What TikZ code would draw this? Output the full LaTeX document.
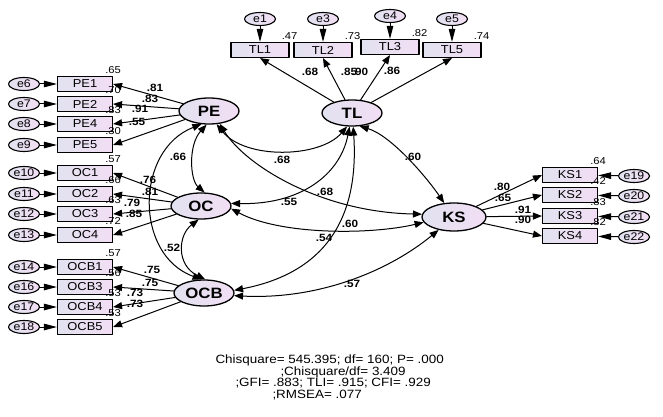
\documentclass[tikz,border=0pt]{standalone}
\usepackage{fontspec}
\setmainfont{Liberation Sans}[FakeStretch=1.12]
\usetikzlibrary{arrows.meta,shapes.geometric}
\definecolor{lvL}{RGB}{226,226,240}
\definecolor{lvR}{RGB}{242,222,244}
\tikzset{
	latent/.style={ellipse,draw,line width=1.3pt,left color=lvL,right color=lvR,minimum width=60,minimum height=26,inner sep=0pt,font=\fontsize{15}{15}\selectfont\bfseries},
	ind/.style={rectangle,draw,line width=1.1pt,left color=lvL,right color=lvR,minimum width=55,minimum height=15,inner sep=0pt,font=\fontsize{11.5}{11.5}\selectfont},
	err/.style={ellipse,draw,line width=1.1pt,left color=lvL,right color=lvR,minimum width=31,minimum height=13,inner sep=0pt,font=\fontsize{11}{11}\selectfont},
	errarr/.style={-{Triangle[length=13pt,width=6.5pt]}},
	ld/.style={font=\fontsize{10.5}{10.5}\selectfont\bfseries,inner sep=0.5pt},
	rsq/.style={font=\fontsize{10}{10}\selectfont,inner sep=0.5pt,above=1.5pt},
	stat/.style={font=\fontsize{12}{12}\selectfont,inner sep=0pt,anchor=base west}
}
\begin{document}
\begin{tikzpicture}[x=1pt,y=-1pt,>={Triangle[length=9pt,width=7pt]},line join=round,line cap=round,line width=1pt]
	\fill[white] (0,0) rectangle (663,417);
	\useasboundingbox (0,0) rectangle (663,417);
	\node[latent] (PE) at (209,111) {PE};
	\node[latent] (TL) at (352,113) {TL};
	\node[latent] (OC) at (201,206) {OC};
	\node[latent] (OCB) at (204,293) {OCB};
	\node[latent,minimum width=64,minimum height=28] (KS) at (454,217) {KS};
	\foreach \nm/\er/\yy/\rs/\lv in {PE1/e6/84/.65/PE, PE2/e7/104/.70/PE, PE4/e8/124/.83/PE, PE5/e9/145/.30/PE, OC1/e10/173/.57/OC, OC2/e11/194/.66/OC, OC3/e12/214/.63/OC, OC4/e13/235/.72/OC, OCB1/e14/267/.57/OCB, OCB3/e16/287/.56/OCB, OCB4/e17/307/.53/OCB, OCB5/e18/327/.53/OCB}{
		\node[ind] (\nm) at (85,\yy) {\nm};
		\node[err] (\er) at (24,\yy) {\er};
		\draw[errarr] (\er) -- (\nm);
		\draw[->] (\lv) -- (\nm.east);
		\node[rsq] at (\nm.north east) {\rs};
	}
	\foreach \nm/\er/\xx/\yy/\rs in {TL1/e1/260/50/.47, TL2/e3/323/50/.73, TL3/e4/390/47/.82, TL5/e5/452/50/.74}{
		\node[ind,minimum width=58] (\nm) at (\xx,\yy) {\nm};
		\node[err] (\er) at (\xx,\yy-31) {\er};
		\draw[errarr] (\er) -- (\nm);
		\draw[->] (TL) -- (\nm.south);
		\node[rsq] at (\nm.north east) {\rs};
	}
	\foreach \nm/\er/\yy/\rs in {KS1/e19/175/.64, KS2/e20/195/.42, KS3/e21/216/.83, KS4/e22/236/.82}{
		\node[ind] (\nm) at (570,\yy) {\nm};
		\node[err] (\er) at (634,\yy+1) {\er};
		\draw[errarr] (\er) -- (\nm);
		\draw[->] (KS) -- (\nm.west);
		\node[rsq] at (\nm.north east) {\rs};
	}
	\draw[<->] (PE.260) .. controls (188,145) and (190,180) .. (OC.75);
	\draw[<->] (PE.240) .. controls (135,150) and (134,255) .. (OCB.100);
	\draw[<->] (OC.260) .. controls (178,235) and (176,265) .. (OCB.85);
	\draw[<->] (PE.300) .. controls (245,160) and (320,158) .. (TL.250);
	\draw[<->] (PE.310) .. controls (245,165) and (320,212) .. (KS.175);
	\draw[<->] (TL.260) .. controls (340,175) and (300,205) .. (OC.5);
	\draw[<->] (TL.275) .. controls (358,200) and (340,270) .. (OCB.5);
	\draw[<->] (TL.300) .. controls (390,135) and (425,175) .. (KS.125);
	\draw[<->] (OC.355) .. controls (280,235) and (370,235) .. (KS.190);
	\draw[<->] (OCB.355) .. controls (320,300) and (390,270) .. (KS.220);
	\foreach \xx/\yy/\lb in {155/88/.81, 150/99/.83, 140/109/.91, 137/122/.55, 148/180/.76, 150/192/.81, 132/203/.79, 134/214/.85, 152/270/.75, 150/283/.75, 135/293/.73, 135/304/.73, 310/72/.68, 349/72/.85, 360/72/.90, 392/71/.86, 502/187/.80, 503/198/.65, 523/210/.91, 523/220/.90, 178/157/.66, 172/248/.52, 282/160/.68, 325/192/.68, 289/202/.55, 413/157/.60, 350/224/.60, 324/238/.54, 352/284/.57}
		\node[ld] at (\xx,\yy) {\lb};
	\node[stat] at (215,363) {Chisquare= 545.395; df= 160; P= .000};
	\node[stat] at (280,375) {;Chisquare/df= 3.409};
	\node[stat] at (235,386.5) {;GFI= .883; TLI= .915; CFI= .929};
	\node[stat] at (272,398) {;RMSEA= .077};
\end{tikzpicture}
\end{document}
